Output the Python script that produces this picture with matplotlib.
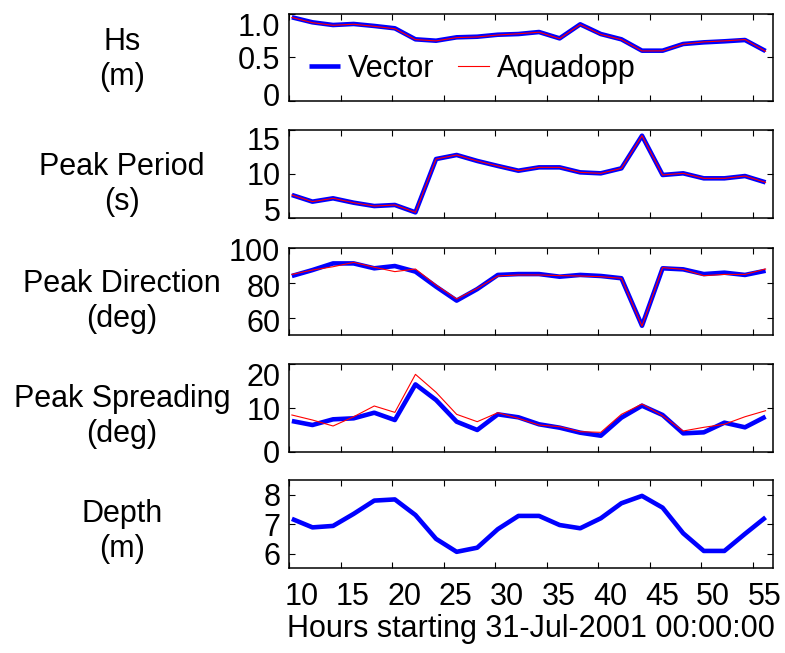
import matplotlib
matplotlib.use("Agg")
import matplotlib.pyplot as plt
import matplotlib.transforms as mtransforms

plt.rcParams['font.family'] = ['Liberation Sans', 'DejaVu Sans']

# ---------------- data ----------------
hours = [10.25, 12.25, 14.25, 16.25, 18.25, 20.25, 22.25, 24.25, 26.25, 28.25,
         30.25, 32.25, 34.25, 36.25, 38.25, 40.25, 42.25, 44.25, 46.25, 48.25,
         50.25, 52.25, 54.25, 56.25]

hs_vector = [0.962, 0.904, 0.873, 0.885, 0.862, 0.835, 0.708, 0.692, 0.731, 0.738,
             0.761, 0.769, 0.792, 0.719, 0.881, 0.769, 0.708, 0.577, 0.577, 0.654,
             0.673, 0.685, 0.700, 0.573]
hs_aquadopp = [0.960, 0.900, 0.870, 0.882, 0.858, 0.830, 0.705, 0.690, 0.728, 0.735,
               0.758, 0.772, 0.790, 0.716, 0.878, 0.765, 0.705, 0.574, 0.575, 0.652,
               0.678, 0.690, 0.705, 0.570]

tp_vector = [7.59, 6.83, 7.21, 6.71, 6.33, 6.45, 5.61, 11.69, 12.15, 11.47,
             10.90, 10.36, 10.74, 10.74, 10.17, 10.06, 10.63, 14.35, 9.87, 10.06,
             9.49, 9.49, 9.75, 9.03]
tp_aquadopp = [7.59, 6.83, 7.21, 6.71, 6.33, 6.45, 5.61, 11.69, 12.15, 11.47,
               10.90, 10.36, 10.74, 10.74, 10.17, 10.06, 10.63, 14.35, 9.87, 10.06,
               9.49, 9.49, 9.75, 9.03]

dir_vector = [83.8, 87.2, 91.0, 91.0, 88.2, 89.5, 86.3, 77.7, 69.7, 76.3,
              84.4, 84.9, 84.9, 83.4, 84.4, 83.8, 82.5, 55.3, 88.2, 87.6,
              84.9, 85.7, 84.4, 86.8]
dir_aquadopp = [84.7, 87.2, 89.1, 91.6, 88.8, 86.3, 87.8, 78.6, 70.6, 76.7,
                83.8, 84.4, 84.4, 84.0, 83.8, 83.4, 82.5, 55.1, 88.6, 87.6,
                84.0, 84.7, 84.7, 87.8]

spr_vector = [7.02, 6.11, 7.41, 7.64, 8.92, 7.25, 15.4, 11.83, 6.87, 4.97,
              8.55, 7.87, 6.27, 5.50, 4.35, 3.66, 7.78, 10.53, 8.40, 4.20,
              4.43, 6.64, 5.58, 8.01]
spr_aquadopp = [8.40, 7.25, 5.88, 8.00, 10.46, 9.00, 17.7, 13.6, 8.55, 6.87,
                8.92, 7.64, 6.11, 5.72, 4.58, 4.43, 8.55, 10.90, 8.24, 4.74,
                5.58, 6.27, 8.00, 9.38]

depth_vector = [7.18, 6.89, 6.94, 7.35, 7.80, 7.84, 7.31, 6.50, 6.06, 6.20,
                6.83, 7.28, 7.28, 6.97, 6.86, 7.20, 7.71, 7.96, 7.56, 6.69,
                6.09, 6.09, 6.67, 7.23]

xticks = [10, 15, 20, 25, 30, 35, 40, 45, 50, 55]
xtick_labels = ['10', '15', '20', '25', '30', '35', '40', '45', '50', '55']

panel_labels = ['Hs\n(m)', 'Peak Period\n(s)', 'Peak Direction\n(deg)',
                'Peak Spreading\n(deg)', 'Depth\n(m)']
panel_ylims = [(0, 1), (5, 15), (50, 100), (0, 20), (5.5, 8.5)]
panel_yticks = [[0, 0.5, 1.0], [5, 10, 15], [60, 80, 100], [0, 10, 20], [6, 7, 8]]
panel_yticklabels = [['0', '0.5', '1.0'], ['5', '10', '15'], ['60', '80', '100'],
                     ['0', '10', '20'], ['6', '7', '8']]
series_vector = [hs_vector, tp_vector, dir_vector, spr_vector, depth_vector]
series_aquadopp = [hs_aquadopp, tp_aquadopp, dir_aquadopp, spr_aquadopp, None]

# ---------------- layout ----------------
W, H = 785, 653
DPI = 100
fig = plt.figure(figsize=(W / DPI, H / DPI), dpi=DPI)
rows = [(14, 100.7), (130, 217.7), (247.7, 335), (364.3, 451.7), (480, 568.3)]
# baseline (px from top) of the second line of each side label
label_baselines = [85, 210, 326.7, 441.7, 556.7]
left_px, right_px = 289.3, 773.3
FS = 22
# vertical nudges (px, positive = down) of edge tick labels, as in the reference
ylabel_nudge = [{'1.0': 10, '0': -6}, {'15': 9, '5': -8}, {'100': 2, '80': 3, '60': 3},
                {'20': 10}, {}]

axes = []
for i, (top, bot) in enumerate(rows):
    ax = fig.add_axes([left_px / W, 1 - bot / H, (right_px - left_px) / W, (bot - top) / H])
    axes.append(ax)
    ax.plot(hours, series_vector[i], color='#0000ff', lw=3.3, label='Vector',
            solid_joinstyle='round', solid_capstyle='butt')
    if series_aquadopp[i] is not None:
        ax.plot(hours, series_aquadopp[i], color='#ff0000', lw=0.8, label='Aquadopp')
    ax.set_xlim(10, 57)
    ax.set_ylim(*panel_ylims[i])
    ax.set_yticks(panel_yticks[i])
    ax.set_yticklabels(panel_yticklabels[i])
    ax.set_xticks(xticks)
    if i == 4:
        ax.set_xticklabels(xtick_labels)
        ax.set_xlabel('Hours starting 31-Jul-2001 00:00:00', fontsize=FS, labelpad=1.5)
    else:
        ax.set_xticklabels([])
    ax.tick_params(direction='in', top=True, right=True, length=4, width=0.8,
                   labelsize=FS, pad=6.5, color='black')
    ax.tick_params(axis='x', pad=10)
    for s in ax.spines.values():
        s.set_linewidth(1.1)
        s.set_color('black')
    fig.text(122 / W, 1 - label_baselines[i] / H, panel_labels[i], ha='center',
             va='baseline', multialignment='center', fontsize=FS, linespacing=1.2)
    if i == 0:
        ax.legend(ncol=2, frameon=False, loc='center left',
                  bbox_to_anchor=(20 / 484, 0.366), borderaxespad=0, borderpad=0,
                  handlelength=1.0, handletextpad=0.25, columnspacing=0.8,
                  fontsize=FS)

# nudge tick labels to follow the reference rendering
for i, ax in enumerate(axes):
    nud = ylabel_nudge[i]
    for tick, lab in zip(ax.yaxis.get_major_ticks(), panel_yticklabels[i]):
        dy = nud.get(lab, 0)
        if dy:
            off = mtransforms.ScaledTranslation(0, -dy / DPI, fig.dpi_scale_trans)
            tick.label1.set_transform(tick.label1.get_transform() + off)
for tick in axes[4].xaxis.get_major_ticks():
    off = mtransforms.ScaledTranslation(12 / DPI, 0, fig.dpi_scale_trans)
    tick.label1.set_transform(tick.label1.get_transform() + off)

fig.savefig('out.png', dpi=DPI)
